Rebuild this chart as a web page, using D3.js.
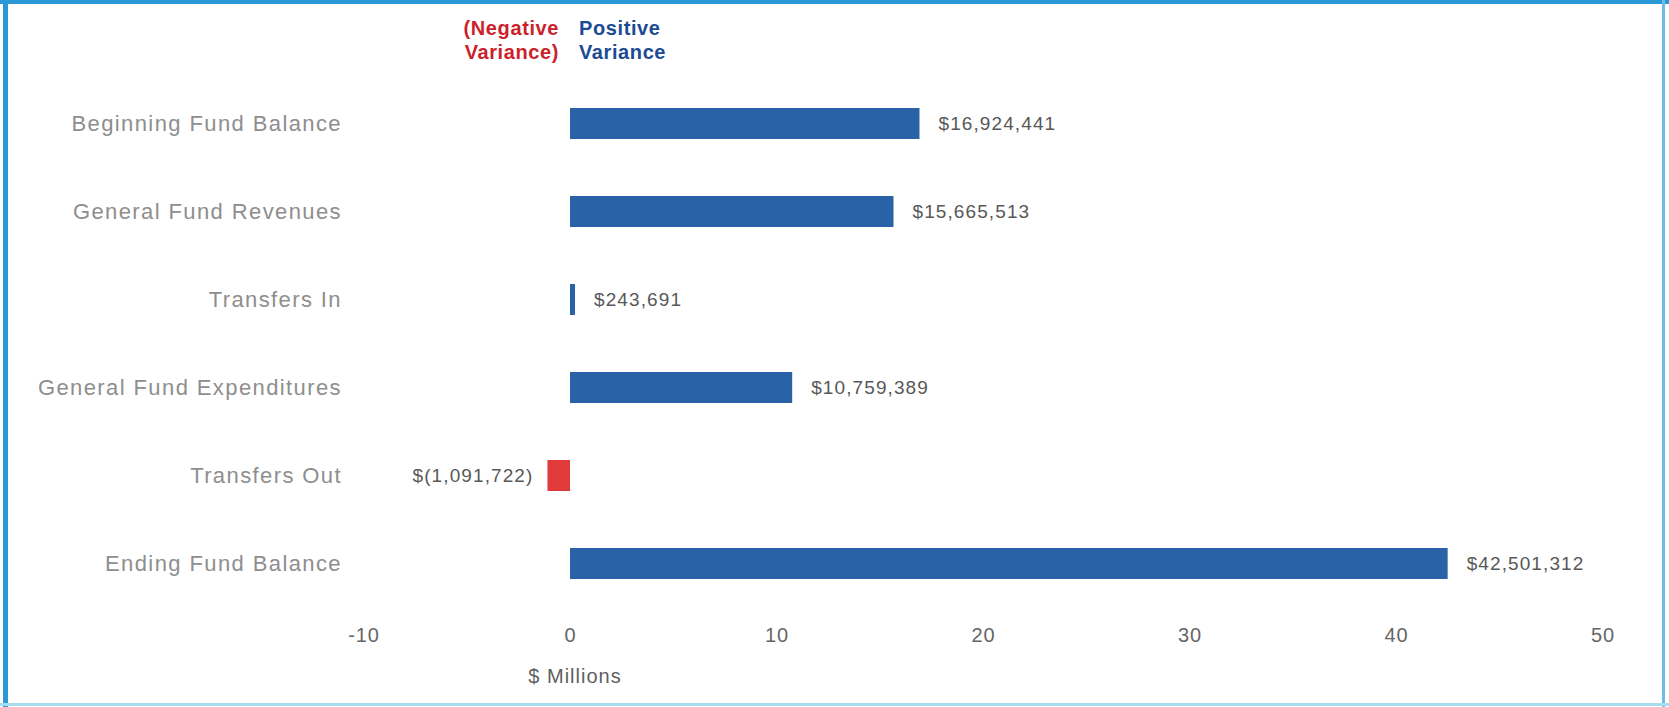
<!DOCTYPE html>
<html>
<head>
<meta charset="utf-8">
<script src="https://cdn.jsdelivr.net/npm/d3@7"></script>
<style>
  body { margin: 0; background: #fff; }
  svg { display: block; font-family: "Liberation Sans", Arial, sans-serif; }
  .cat-label { fill: #8e8e8e; font-size: 22px; letter-spacing: 1.4px; }
  .val-label { fill: #585858; font-size: 19px; letter-spacing: 1.1px; }
  .x-axis text { fill: #666; font-size: 20px; letter-spacing: 0.8px; }
  .legend { font-size: 20px; font-weight: bold; letter-spacing: 0.6px; }
</style>
</head>
<body>
<svg id="chart"></svg>
<script>
// categories, top to bottom
const categories = [
  "Beginning Fund Balance",
  "General Fund Revenues",
  "Transfers In",
  "General Fund Expenditures",
  "Transfers Out",
  "Ending Fund Balance"
];
// variance in dollars
const variance = [16924441, 15665513, 243691, 10759389, -1091722, 42501312];
const xTicks = [-10, 0, 10, 20, 30, 40, 50];
const legendNeg = ["(Negative", "Variance)"];
const legendPos = ["Positive", "Variance"];

const width = 1669, height = 707;
const blue = "#2a62a8", red = "#e03a3a";

const svg = d3.select("#chart")
  .attr("width", width)
  .attr("height", height);

// frame
svg.append("rect").attr("x", 0).attr("y", 0).attr("width", width).attr("height", 4).attr("fill", "#2a98d6");
svg.append("rect").attr("x", 3).attr("y", 0).attr("width", 5).attr("height", height).attr("fill", "#2a98d6");
svg.append("rect").attr("x", 1662).attr("y", 0).attr("width", 3).attr("height", height).attr("fill", "#6fbde6");
svg.append("rect").attr("x", 0).attr("y", 703).attr("width", width).attr("height", 3).attr("fill", "#a6dcf0");

const data = categories.map((c, i) => ({ cat: c, value: variance[i] / 1e6, raw: variance[i] }));

const x = d3.scaleLinear().domain([-10, 50]).range([363.5, 1602.5]);
const y = d3.scalePoint().domain(categories).range([123.5, 563.5]);
const barH = 31;

const fmt = d3.format(",");
const label = d => d.raw < 0 ? `$(${fmt(-d.raw)})` : `$${fmt(d.raw)}`;

// bars
svg.append("g").selectAll("rect")
  .data(data)
  .join("rect")
  .attr("x", d => x(Math.min(0, d.value)))
  .attr("y", d => y(d.cat) - barH / 2)
  .attr("width", d => Math.max(4, Math.abs(x(d.value) - x(0))))
  .attr("height", barH)
  .attr("fill", d => d.value < 0 ? red : blue);

// value labels
svg.append("g").selectAll("text")
  .data(data)
  .join("text")
  .attr("class", "val-label")
  .attr("x", d => d.value < 0 ? x(d.value) - 14 : Math.max(x(d.value), x(0) + 4) + 19)
  .attr("y", d => y(d.cat))
  .attr("dy", "0.35em")
  .attr("text-anchor", d => d.value < 0 ? "end" : "start")
  .text(label);

// category labels
svg.append("g").selectAll("text")
  .data(categories)
  .join("text")
  .attr("class", "cat-label")
  .attr("x", 342)
  .attr("y", d => y(d))
  .attr("dy", "0.35em")
  .attr("text-anchor", "end")
  .text(d => d);

// x axis
const xAxisG = svg.append("g")
  .attr("class", "x-axis")
  .attr("transform", "translate(0,625)")
  .call(d3.axisBottom(x).tickValues(xTicks).tickSize(0).tickPadding(3).tickFormat(d => String(d)));
xAxisG.select(".domain").remove();

svg.append("text")
  .attr("x", x(0) + 5)
  .attr("y", 683)
  .attr("text-anchor", "middle")
  .attr("fill", "#606060")
  .style("font-size", "20px")
  .style("letter-spacing", "1px")
  .text("$ Millions");

// legend
svg.append("g").selectAll("text")
  .data(legendNeg)
  .join("text")
  .attr("class", "legend")
  .attr("x", x(0) - 11)
  .attr("y", (d, i) => 35 + i * 24)
  .attr("text-anchor", "end")
  .attr("fill", "#cc1f2b")
  .text(d => d);

svg.append("g").selectAll("text")
  .data(legendPos)
  .join("text")
  .attr("class", "legend")
  .attr("x", x(0) + 9)
  .attr("y", (d, i) => 35 + i * 24)
  .attr("fill", "#1c4b94")
  .text(d => d);
</script>
</body>
</html>
